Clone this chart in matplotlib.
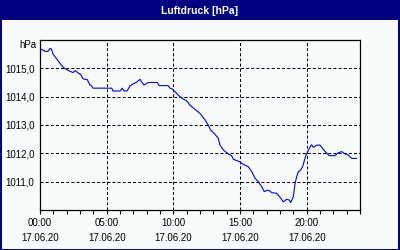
import matplotlib
matplotlib.use("Agg")
import matplotlib.pyplot as plt
from matplotlib.patches import Rectangle

plt.rcParams['font.family'] = ['Liberation Sans', 'DejaVu Sans']
plt.rcParams['lines.scale_dashes'] = False

title = "Luftdruck [hPa]"
unit_label = "hPa"
date_label = "17.06.20"
major_hours = [0, 5, 10, 15, 20]
time_labels = ["00:00", "05:00", "10:00", "15:00", "20:00"]
y_ticks = [1011, 1012, 1013, 1014, 1015]
y_tick_labels = ["1011,0", "1012,0", "1013,0", "1014,0", "1015,0"]

hours = [0.08, 0.38, 0.6, 0.75, 0.86, 0.98, 1.35, 1.73, 1.95, 2.23, 2.48, 2.63, 2.8,
         3.05, 3.23, 3.55, 3.73, 3.85, 3.98, 5.38, 5.48, 6.0, 6.17, 6.3, 6.53, 6.75,
         6.98, 7.2, 7.5, 7.65, 7.8, 8.0, 8.12, 8.8, 8.93, 9.62, 9.75, 9.95, 10.2,
         10.45, 10.7, 11.0, 11.25, 11.63, 12.0, 12.38, 12.62, 12.8, 13.13, 13.37,
         13.5, 13.75, 14.12, 14.38, 14.5, 15.0, 15.25, 15.62, 15.88, 16.13, 16.37,
         16.63, 16.82, 17.05, 17.25, 17.38, 17.75, 18.0, 18.25, 18.5, 18.7, 18.8,
         19.0, 19.13, 19.25, 19.37, 19.55, 19.7, 19.8, 19.95, 20.08, 20.3, 20.38,
         20.5, 20.75, 21.0, 21.25, 21.5, 21.7, 22.13, 22.37, 22.63, 22.88, 23.12,
         23.38, 23.75]
pressure = [1015.68, 1015.6, 1015.6, 1015.7, 1015.68, 1015.5, 1015.27, 1015.04, 1014.97,
            1014.9, 1014.85, 1014.92, 1014.86, 1014.78, 1014.63, 1014.6, 1014.42,
            1014.39, 1014.3, 1014.3, 1014.2, 1014.2, 1014.3, 1014.2, 1014.2, 1014.38,
            1014.45, 1014.5, 1014.61, 1014.5, 1014.41, 1014.47, 1014.5, 1014.5,
            1014.39, 1014.39, 1014.3, 1014.26, 1014.14, 1014.02, 1013.93, 1013.85,
            1013.7, 1013.55, 1013.41, 1013.18, 1013.0, 1012.82, 1012.67, 1012.53,
            1012.29, 1012.12, 1011.98, 1011.91, 1011.79, 1011.7, 1011.61, 1011.53,
            1011.35, 1011.12, 1011.0, 1010.82, 1010.65, 1010.7, 1010.67, 1010.61,
            1010.59, 1010.45, 1010.29, 1010.38, 1010.35, 1010.26, 1010.47, 1010.94,
            1011.17, 1011.35, 1011.41, 1011.53, 1011.7, 1011.94, 1012.06, 1012.26,
            1012.3, 1012.21, 1012.29, 1012.29, 1012.14, 1012.0, 1011.92, 1011.92,
            1012.02, 1012.06, 1011.98, 1011.94, 1011.82, 1011.82]

bg = '#f8fcf8'
navy = '#000080'

fig = plt.figure(figsize=(4, 2.5), dpi=100, facecolor=bg)

# title bar
fig.patches.append(Rectangle((0, 230 / 250), 1, 20 / 250, transform=fig.transFigure,
                             facecolor=navy, edgecolor='none', zorder=0))
fig.text(0.5, 1 - 10.5 / 250, title, color='white', fontsize=7.5, fontweight='bold',
         ha='center', va='center')
# border
fig.patches.append(Rectangle((0.5 / 400, 0.5 / 250), 398.8 / 400, 249 / 250,
                             transform=fig.transFigure, facecolor='none',
                             edgecolor=navy, linewidth=1.4, zorder=5))

ax = fig.add_axes([40 / 400, 40 / 250, 320 / 400, 170 / 250])
ax.set_facecolor(bg)
ax.plot(hours, pressure, color='#0000ff', linewidth=0.8, zorder=3)

ax.set_xlim(0, 24)
ax.set_ylim(1010, 1016)

ax.set_yticks(y_ticks)
ax.set_yticklabels(y_tick_labels)
ax.tick_params(axis='y', length=0, pad=4, labelsize=7)
ax.text(-4 / 320, 1015.82, unit_label, transform=ax.get_yaxis_transform(),
        ha='right', va='center', fontsize=7)

ax.set_xticks(range(0, 25), minor=True)
ax.set_xticks(major_hours)
ax.set_xticklabels([])
ax.tick_params(axis='x', which='both', direction='out', length=3, width=0.8)

for h, t in zip(major_hours, time_labels):
    ax.text(h, -13 / 170, t, transform=ax.get_xaxis_transform(), ha='center',
            va='center', fontsize=7)
    ax.text(h, -28 / 170, date_label, transform=ax.get_xaxis_transform(), ha='center',
            va='center', fontsize=7)

for h in major_hours[1:]:
    ax.axvline(h, color='black', linewidth=0.75, dashes=(2.2, 1.5), zorder=1)
for v in y_ticks:
    ax.axhline(v, color='black', linewidth=0.75, dashes=(2.2, 1.5), zorder=1)

for s in ax.spines.values():
    s.set_linewidth(0.9)
    s.set_color('black')

fig.savefig('out.png', dpi=100, facecolor=bg)
